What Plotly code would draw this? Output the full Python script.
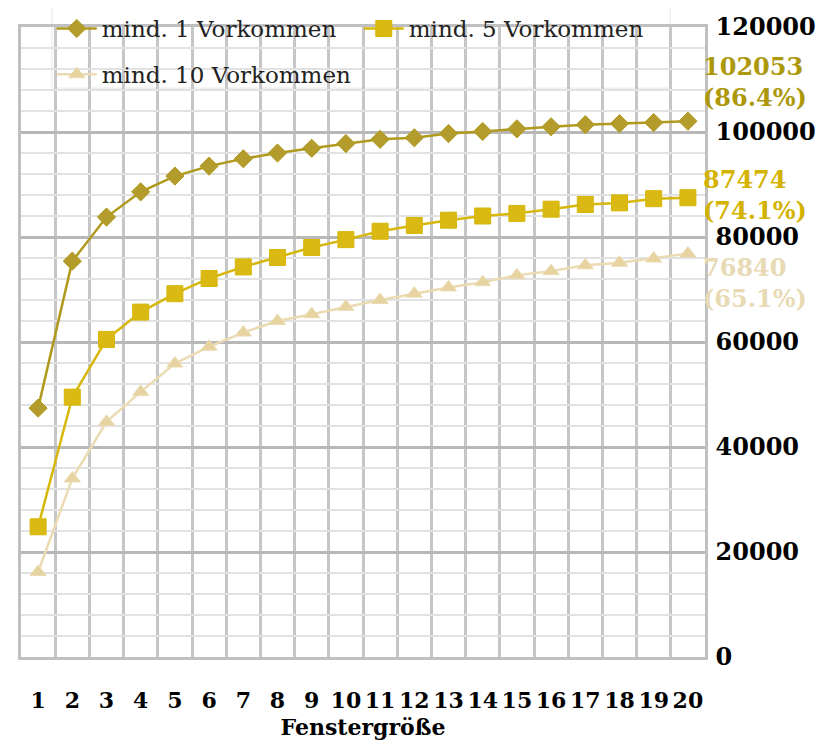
import plotly.graph_objects as go

windows = list(range(1, 21))
tick_labels = [str(w) for w in windows]
names = ["mind. 1 Vorkommen", "mind. 5 Vorkommen", "mind. 10 Vorkommen"]
min1 = [47400, 75400, 83800, 88600, 91600, 93500, 94900, 96000, 96900, 97800,
        98600, 98900, 99700, 100100, 100600, 101000, 101400, 101600, 101800, 102053]
min5 = [24800, 49500, 60500, 65700, 69200, 72100, 74300, 76100, 78000, 79500,
        81100, 82200, 83200, 84000, 84500, 85300, 86200, 86500, 87300, 87474]
min10 = [16200, 34000, 44800, 50500, 55900, 59100, 61800, 64000, 65300, 66700,
         68000, 69200, 70400, 71400, 72700, 73500, 74600, 75100, 75900, 76840]
percents = [86.4, 74.1, 65.1]

series = [min1, min5, min10]
line_colors = ["#b09a1e", "#d6b70a", "#eadbb2"]
marker_colors = ["#b39c2c", "#d9b912", "#e6d3a0"]
label_colors = ["#ad980c", "#d4b300", "#e8dab4"]
symbols = ["diamond", "square", "triangle-up"]
sizes = [14, 16, 14]
label_shift = [39, 3, -29]
legend_ids = ["legend", "legend", "legend2"]

FONT = "DejaVu Serif"

fig = go.Figure()
for vals, name, lc, mc, sym, sz, lg in zip(series, names, line_colors, marker_colors,
                                           symbols, sizes, legend_ids):
    fig.add_trace(go.Scatter(
        x=windows, y=vals, name=name, mode="lines+markers", legend=lg,
        line=dict(color=lc, width=2.5),
        marker=dict(symbol=sym, size=sz, color=mc, line=dict(color=lc, width=1)),
    ))

for vals, pct, col, sh in zip(series, percents, label_colors, label_shift):
    fig.add_annotation(
        x=1, xref="paper", xanchor="left", xshift=-4,
        y=vals[-1], yref="y", yshift=sh, yanchor="middle",
        text=f"<b>{vals[-1]}<br>({pct}%)</b>", showarrow=False, align="left",
        font=dict(family=FONT, size=24, color=col),
    )

# legend background box (semi-transparent, over the grid, under the lines)
fig.add_shape(
    type="rect", xref="paper", yref="paper",
    x0=0.0453, x1=0.949, y0=0.903, y1=1.033, layer="between",
    fillcolor="rgba(255,255,255,0.72)", line=dict(color="#e6e6e6", width=1),
)

legend_common = dict(
    orientation="h", xanchor="left", yanchor="top",
    bgcolor="rgba(0,0,0,0)", borderwidth=0,
    font=dict(family=FONT, size=23, color="#222222"),
    entrywidth=252, entrywidthmode="pixels", itemwidth=40,
)

fig.update_layout(
    width=828, height=738,
    margin=dict(l=13, r=131, t=19, b=89, autoexpand=False),
    paper_bgcolor="white", plot_bgcolor="white",
    font=dict(family=FONT, color="black"),
    showlegend=True,
    legend=dict(x=0.045, y=1.0317, **legend_common),
    legend2=dict(x=0.045, y=0.959, **legend_common),
    xaxis=dict(
        range=[0.5, 20.5], tickvals=windows,
        ticktext=[f"<b>{t}</b>" for t in tick_labels],
        showgrid=False, zeroline=False,
        tickfont=dict(family=FONT, size=22, color="black"),
        ticklabelstandoff=22,
        title=dict(text="<b>Fenstergröße</b>", font=dict(family=FONT, size=22, color="black"), standoff=8),
        minor=dict(tick0=0.5, dtick=1, showgrid=True, gridcolor="#c6c6c6", gridwidth=2.5),
        showline=True, linecolor="#c0c0c0", linewidth=2.5, mirror=True,
    ),
    yaxis=dict(
        side="right", range=[0, 120000], dtick=20000, tick0=0,
        tickformat="d",
        showgrid=True, gridcolor="#b8b8b8", gridwidth=2.5, zeroline=False,
        tickfont=dict(family=FONT, size=24, color="black"),
        tickprefix="<b>", ticksuffix="</b>",
        ticklabelstandoff=3,
        minor=dict(dtick=4000, showgrid=True, gridcolor="#e2e2e2", gridwidth=2),
        showline=True, linecolor="#c0c0c0", linewidth=2.5, mirror=True,
    ),
)

fig.write_html("out.html")
